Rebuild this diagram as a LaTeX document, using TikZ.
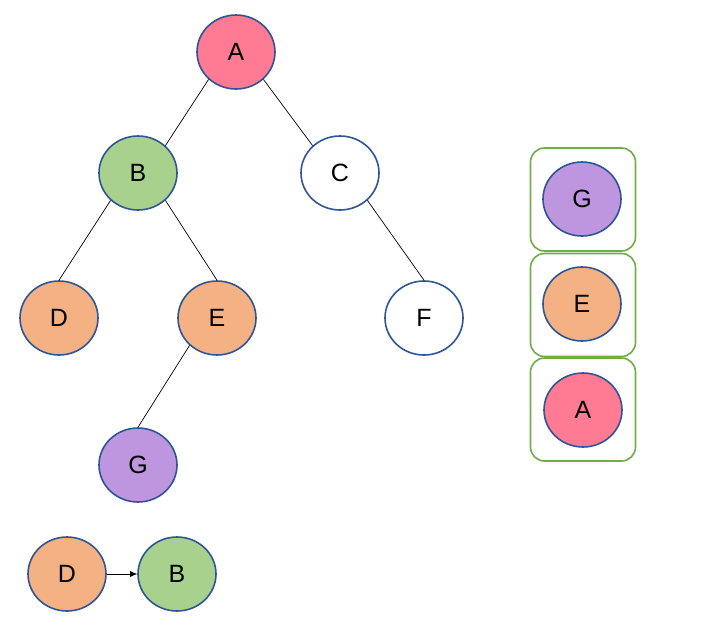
\documentclass[tikz,border=0pt]{standalone}
\usepackage{fontspec}
\setmainfont{Liberation Sans}
\usetikzlibrary{shapes.geometric,arrows.meta}
\definecolor{pinkA}{HTML}{FF7A93}
\definecolor{greenB}{HTML}{A9D18E}
\definecolor{orangeD}{HTML}{F4B183}
\definecolor{purpleG}{HTML}{BE95DF}
\definecolor{rimblue}{HTML}{2F5597}
\definecolor{boxgreen}{HTML}{70AD47}
\tikzset{
  vtx/.style={ellipse, draw=rimblue, line width=1.6pt, minimum width=78pt, minimum height=74pt, inner sep=0pt, font=\fontsize{25}{27}\selectfont},
  stackbox/.style={draw=boxgreen, line width=1.6pt, rounded corners=14pt, minimum width=105pt, minimum height=103pt, inner sep=0pt},
  edge/.style={draw=black, line width=0.7pt}
}
\begin{document}
\begin{tikzpicture}[x=1pt,y=-1pt]
\useasboundingbox (0,0) rectangle (718,630);
\node[vtx, fill=pinkA] (A) at (236,52) {A};
\node[vtx, fill=greenB] (B) at (138,173) {B};
\node[vtx, fill=white] (C) at (340,173) {C};
\node[vtx, fill=orangeD] (D) at (59,318) {D};
\node[vtx, fill=orangeD] (E) at (217,318) {E};
\node[vtx, fill=white] (F) at (424,318) {F};
\node[vtx, fill=purpleG] (G) at (138,465) {G};
\draw[edge] (A.225) -- (B.45);
\draw[edge] (A.315) -- (C.135);
\draw[edge] (B.225) -- (D.north);
\draw[edge] (B.315) -- (E.north);
\draw[edge] (E.225) -- (G.north);
\draw[edge] (C.315) -- (F.north);
\node[vtx, fill=orangeD] (D2) at (67,574) {D};
\node[vtx, fill=greenB] (B2) at (177,574) {B};
\draw[edge, -{Latex[length=7pt,width=6pt]}] (D2.east) -- (B2.west);
\node[stackbox] (s1) at (583,199.5) {};
\node[stackbox] (s2) at (583,305) {};
\node[stackbox] (s3) at (583,409.5) {};
\node[vtx, fill=purpleG] (SG) at (582,199) {G};
\node[vtx, fill=orangeD] (SE) at (582,304) {E};
\node[vtx, fill=pinkA] (SA) at (583,410) {A};
\end{tikzpicture}
\end{document}
